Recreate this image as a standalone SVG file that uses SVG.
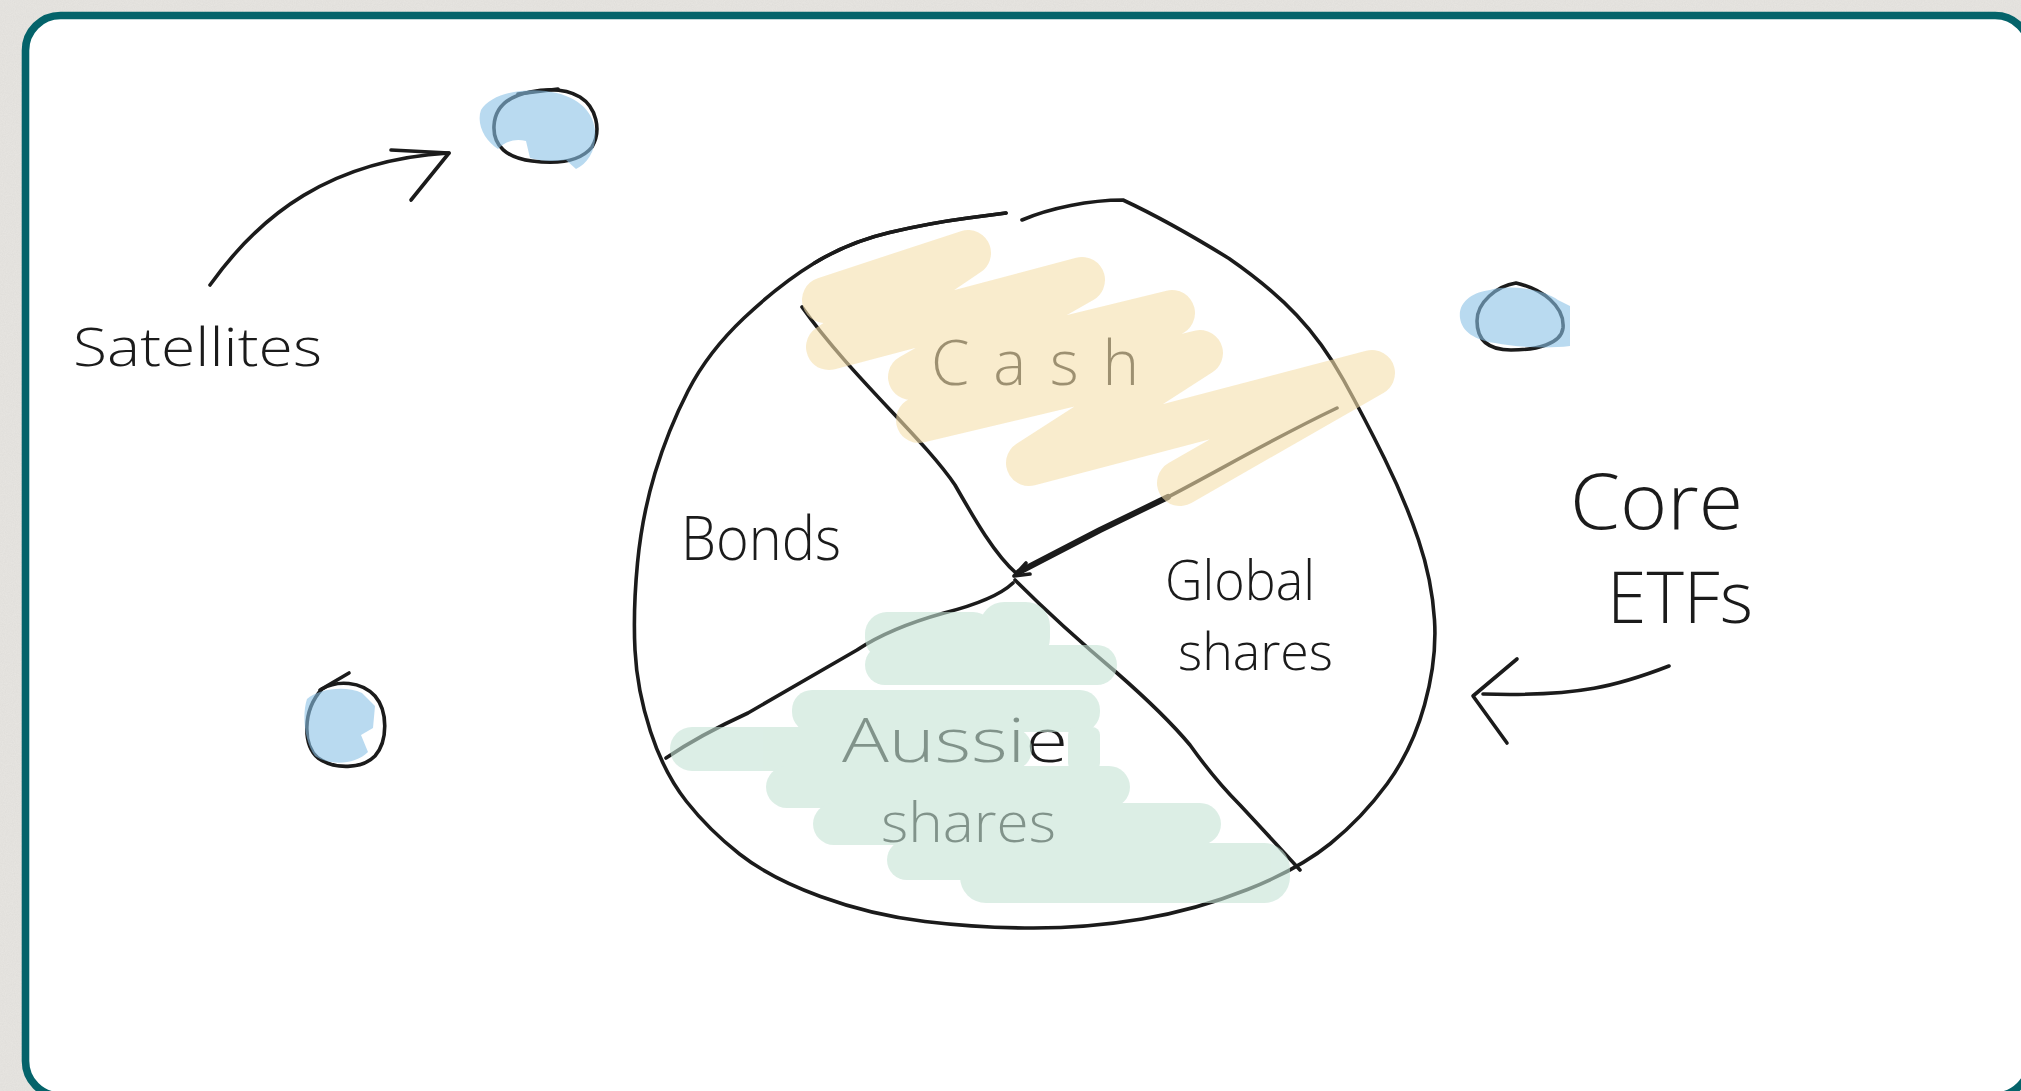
<svg xmlns="http://www.w3.org/2000/svg" width="2021" height="1091" viewBox="0 0 2021 1091">
  <defs>
    <filter id="paper" x="0" y="0" width="100%" height="100%">
      <feTurbulence type="fractalNoise" baseFrequency="0.9" numOctaves="2" seed="4" result="n"/>
      <feColorMatrix in="n" type="matrix" values="0 0 0 0 0.55  0 0 0 0 0.54  0 0 0 0 0.52  0 0 0 0.25 0"/>
    </filter>
    <style>
      .ink { fill: none; stroke: #1b1b1b; stroke-width: 3.6; stroke-linecap: round; stroke-linejoin: round; }
      .thick { stroke-width: 6; }
      .hand { font-family: "Open Sans", "Liberation Sans", sans-serif; font-weight: 300; fill: #1b1b1b; }
      .blue { fill: #8ac1e6; opacity: 0.6; }
      .yellow { fill: none; stroke: #f5dfac; stroke-width: 46; stroke-linecap: round; stroke-linejoin: round; }
      .green rect { fill: #c5e3d5; }
    </style>
  </defs>

  <!-- paper -->
  <rect width="2021" height="1091" fill="#e8e6e2"/>
  <rect width="2021" height="1091" filter="url(#paper)"/>

  <!-- card -->
  <rect x="25.5" y="15.5" width="2004.5" height="1080.5" rx="35" ry="35" fill="#ffffff" stroke="#04636a" stroke-width="7.6"/>

  <!-- satellite, top -->
  <g id="satellite-top">
    <path class="ink" d="M530,92 C 550,88 568,90 580,97 C 596,107 602,130 592,147 C 580,162 556,164 532,161 C 507,158 493,146 494,126 C 495,106 510,96 530,92"/>
    <path class="ink" stroke-width="5" d="M518,94 L558,89"/>
    <path class="blue" d="M481,110 C 490,95 518,88 546,91 C 576,95 593,110 595,130 C 597,150 588,163 576,169 L566,160 C 552,162 540,161 530,158 L526,141 C 514,138 505,142 498,149 C 485,141 476,124 481,110 Z"/>
  </g>

  <!-- satellite, right -->
  <g id="satellite-right">
    <path class="ink" d="M1516,283 C 1542,289 1565,306 1563,328 C 1561,344 1537,350 1511,350 C 1490,350 1477,342 1477,321 C 1477,302 1497,286 1516,283 Z"/>
    <path class="blue" d="M1460,318 C 1458,301 1474,292 1490,290 C 1512,284 1545,290 1558,300 L1570,306 L1570,346 C 1545,349 1516,347 1495,343 C 1475,340 1462,332 1460,318 Z"/>
  </g>

  <!-- satellite, left -->
  <g id="satellite-left">
    <path class="ink" d="M322,689 C 337,680 361,681 375,696 C 388,711 388,741 375,756 C 362,769 335,770 318,758 C 303,745 302,711 322,689"/>
    <path class="ink" stroke-width="4.5" d="M320,690 L349,673"/>
    <path class="blue" d="M307,699 C 318,689 345,685 362,693 L375,706 L373,728 L361,735 L368,752 C 355,765 330,766 315,756 C 304,741 302,714 307,699 Z"/>
  </g>

  <!-- core portfolio pie -->
  <g id="pie">
    <!-- segment labels -->
    <text class="hand" x="931" y="385" font-size="62" textLength="208" lengthAdjust="spacing">Cash</text>
    <text class="hand" x="681" y="560" font-size="60" textLength="160" lengthAdjust="spacingAndGlyphs">Bonds</text>
    <text class="hand" x="1165" y="600" font-size="56" textLength="150" lengthAdjust="spacingAndGlyphs">Global</text>
    <text class="hand" x="1178" y="670" font-size="52" textLength="155" lengthAdjust="spacingAndGlyphs">shares</text>
    <text class="hand" x="842" y="762" font-size="60" textLength="226" lengthAdjust="spacingAndGlyphs">Aussie</text>
    <text class="hand" x="881" y="842" font-size="56" textLength="175" lengthAdjust="spacingAndGlyphs">shares</text>

    <!-- outline -->
    <path class="ink" d="M1022,220 C 1050,208 1090,200 1123,200 Q1170,222 1229,258.5 Q1270,287 1296.5,315 Q1323,343 1343.5,380 Q1364,417 1384.5,458.5 Q1405,500 1418.5,540 Q1432,580 1434.5,620 Q1437,660 1424.5,705 Q1412,750 1387,784 Q1362,818 1330.5,843.5 Q1299,869 1247.5,889.5 Q1196,910 1142,919 Q1088,928 1033.5,928 Q979,928 925,921.5 Q871,915 820.5,896.5 Q770,878 739.5,854 Q709,830 686.5,801.5 Q664,773 650.5,731.5 Q637,690 635,650 Q633,610 637.5,563 Q642,516 655,473 Q668,430 688,391 Q708,352 744,318 Q780,284 814.5,263 Q849,242 889.5,232.5 Q930,223 968,218 L1006,213"/>
    <path class="ink" stroke-width="4.5" d="M814.5,263 Q849,242 889.5,232.5 Q930,223 968,218 L1006,213"/>

    <!-- dividers -->
    <path class="ink" d="M802,307 C 850,375 925,440 955,485 C 975,520 995,555 1017,574"/>
    <path class="ink thick" d="M1019,572 L1100,530 L1168,497"/>
    <path class="ink" d="M1166,498 C 1220,470 1270,440 1337,408"/>
    <path class="ink" stroke-width="4.5" d="M1014,576 L1026,563 M1014,576 L1030,574"/>
    <path class="ink" d="M1013,583 Q995,600 944,613 Q890,628 857,650 L748,713 Q700,735 666,758"/>
    <path class="ink" d="M1015,580 Q1060,625 1117,673 Q1165,715 1190,745 Q1215,780 1240,805 Q1280,848 1300,870"/>

    <!-- highlighter: cash -->
    <g opacity="0.6">
      <path class="yellow" d="M825,300 L968,253 L829,347 L1082,280 L911,377 L1172,313 L919,420 L1200,353 L1029,463 L1372,373 L1180,483"/>
    </g>

    <!-- highlighter: aussie shares -->
    <g class="green" opacity="0.6">
      <rect x="865" y="612" width="130" height="48" rx="22"/>
      <rect x="980" y="602" width="70" height="60" rx="24"/>
      <rect x="865" y="645" width="252" height="40" rx="20"/>
      <rect x="792" y="690" width="308" height="42" rx="20"/>
      <rect x="670" y="727" width="362" height="44" rx="22"/>
      <rect x="1068" y="727" width="32" height="44" rx="8"/>
      <rect x="766" y="766" width="364" height="42" rx="21"/>
      <rect x="813" y="803" width="408" height="42" rx="21"/>
      <rect x="887" y="840" width="170" height="40" rx="20"/>
      <rect x="960" y="843" width="330" height="60" rx="26"/>
    </g>
  </g>

  <!-- free labels -->
  <g id="label-satellites">
    <text class="hand" x="73" y="366" font-size="54" textLength="249" lengthAdjust="spacingAndGlyphs">Satellites</text>
  </g>
  <g id="label-core-etfs">
    <text class="hand" x="1570" y="529" font-size="78" textLength="173" lengthAdjust="spacingAndGlyphs">Core</text>
    <text class="hand" x="1607" y="623" font-size="72" textLength="146" lengthAdjust="spacingAndGlyphs">ETFs</text>
  </g>

  <!-- connectors -->
  <g id="connectors">
    <path class="ink" d="M210,285 C 260,215 330,160 449,153"/>
    <path class="ink" d="M391,150 L449,153 L411,200"/>
    <path class="ink" d="M1669,666 C 1620,685 1580,697 1483,694"/>
    <path class="ink" d="M1517,659 L1473,696 L1507,743"/>
  </g>
</svg>
